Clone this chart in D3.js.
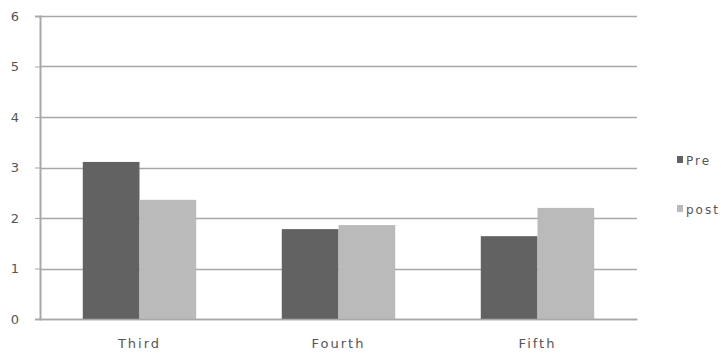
<!DOCTYPE html>
<html>
<head>
<meta charset="utf-8">
<script src="https://cdn.jsdelivr.net/npm/d3@7"></script>
<style>
  html, body { margin: 0; padding: 0; background: #fff; overflow: hidden; }
  svg { display: block; }
  text { font-family: "DejaVu Sans", Verdana, sans-serif; fill: #555; }
</style>
</head>
<body>
<svg id="chart" width="721" height="360"></svg>
<script>
// Grades compared before and after
const categories = ["Third", "Fourth", "Fifth"];
const seriesNames = ["Pre", "post"];
const preValues = [3.11, 1.78, 1.64];
const postValues = [2.36, 1.86, 2.2];
const yTicks = [0, 1, 2, 3, 4, 5, 6];

const colors = ["#626262", "#bababa"];

const svg = d3.select("#chart");
const margin = { left: 40, right: 84, top: 16, bottom: 41 };
const width = 721, height = 360;

const x = d3.scaleBand()
  .domain(categories)
  .range([margin.left, width - margin.right])
  .paddingInner(0.43)
  .paddingOuter(0.215);

const inner = d3.scaleBand()
  .domain(seriesNames)
  .range([0, x.bandwidth()]);

const y = d3.scaleLinear()
  .domain([0, 6])
  .range([height - margin.bottom, margin.top]);

// horizontal gridlines
svg.append("g")
  .selectAll("line")
  .data(yTicks)
  .join("line")
  .attr("x1", margin.left)
  .attr("x2", width - margin.right)
  .attr("y1", d => Math.round(y(d)) + 0.5)
  .attr("y2", d => Math.round(y(d)) + 0.5)
  .attr("stroke", "#a8a8a8")
  .attr("stroke-width", 1.5);

// bars
const rows = categories.map((c, i) => ({ cat: c, vals: [preValues[i], postValues[i]] }));
const groups = svg.append("g")
  .selectAll("g")
  .data(rows)
  .join("g")
  .attr("transform", d => `translate(${x(d.cat)},0)`);

groups.selectAll("rect")
  .data(d => d.vals.map((v, j) => ({ name: seriesNames[j], v, j })))
  .join("rect")
  .attr("x", d => inner(d.name))
  .attr("width", inner.bandwidth())
  .attr("y", d => y(d.v))
  .attr("height", d => y(0) - y(d.v))
  .attr("fill", d => colors[d.j]);

// y axis
const yAxis = d3.axisLeft(y)
  .tickValues(yTicks)
  .tickSize(5)
  .tickPadding(16)
  .tickFormat(d3.format("d"));

const gy = svg.append("g")
  .attr("transform", `translate(${margin.left},0)`)
  .call(yAxis);
gy.select(".domain").attr("stroke", "#a8a8a8").attr("stroke-width", 2);
gy.selectAll(".tick line").attr("stroke", "#a8a8a8");
gy.selectAll(".tick text").attr("font-size", 13).attr("fill", "#555");

// x axis
const xAxis = d3.axisBottom(x).tickSize(0).tickPadding(20);
const gx = svg.append("g")
  .attr("transform", `translate(0,${y(0)})`)
  .call(xAxis);
gx.select(".domain").attr("stroke", "#a8a8a8").attr("stroke-width", 1.5);
gx.selectAll(".tick text")
  .attr("font-size", 13)
  .attr("letter-spacing", 2)
  .attr("fill", "#555");

// legend
const legend = svg.append("g")
  .attr("transform", "translate(677,156)");
const items = legend.selectAll("g")
  .data(seriesNames)
  .join("g")
  .attr("transform", (d, i) => `translate(0,${i * 49})`);
items.append("rect")
  .attr("width", 6)
  .attr("height", 7)
  .attr("fill", (d, i) => colors[i]);
items.append("text")
  .attr("x", 9)
  .attr("y", 9)
  .attr("font-size", 12)
  .attr("letter-spacing", 2)
  .text(d => d);
</script>
</body>
</html>
